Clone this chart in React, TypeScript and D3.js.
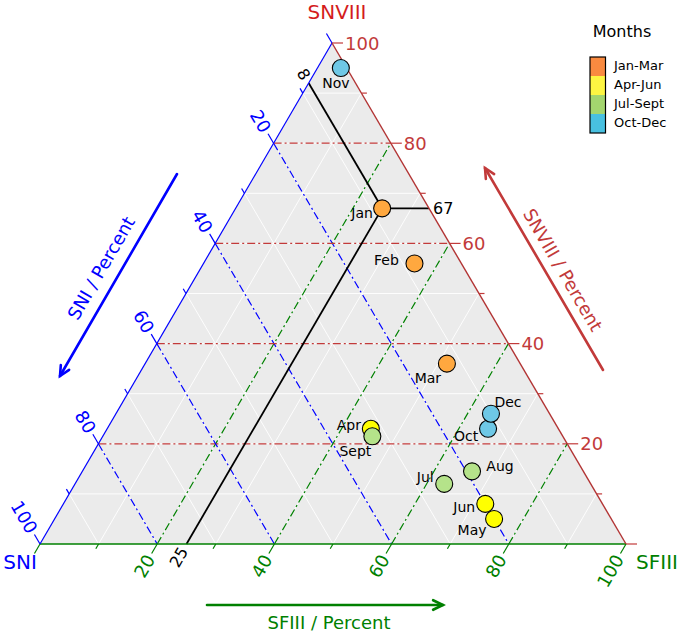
import React from "react";
import * as d3 from "d3";

// ---------- data ----------
const months = ["Jan", "Feb", "Mar", "Apr", "May", "Jun", "Jul", "Aug", "Sept", "Oct", "Nov", "Dec"];
const sniValues = [8, 8, 12.5, 32, 20, 20, 25, 19, 32.5, 12, 1, 10];
const sfiiiValues = [25, 36, 51.5, 45, 75, 72, 63, 66.5, 46, 65, 4, 64];
const snviiiValues = [67, 56, 36, 23, 5, 8, 12, 14.5, 21.5, 23, 95, 26];
const seasonIndex = [0, 0, 0, 1, 1, 1, 2, 2, 2, 3, 3, 3];
const seasons = ["Jan-Mar", "Apr-Jun", "Jul-Sept", "Oct-Dec"];
const tickValues = [0, 10, 20, 30, 40, 50, 60, 70, 80, 90, 100];
const gridValues = [10, 20, 30, 40, 50, 60, 70, 80, 90];
const guideValues = [20, 40, 60, 80];
const refPoint = { sni: 8, sfiii: 25, snviii: 67 };

// ---------- styles ----------
const FONT = "DejaVu Sans, Verdana, sans-serif";
const RED = "#c23a3a";
const RED_TITLE = "#d41c1c";
const RED_EDGE = "#b23434";
const BLUE = "#0000ff";
const GREEN = "#008000";
const pointColors = ["#ffa83f", "#ffff00", "#b5e38a", "#6ec8e6"];
const legendColors = ["#f98a40", "#fdf542", "#a3d56e", "#48c0e0"];
const labelOffsets: Record<string, [number, number]> = {
  Jan: [-20, 5], Feb: [-28, -3], Mar: [-19, 14], Apr: [-22, -4], May: [-22, 11], Jun: [-21, 3],
  Jul: [-19, -7], Aug: [28, -5], Sept: [-17, 15], Oct: [-22, 7], Nov: [-5, 15], Dec: [17, -12],
};

// ---------- geometry ----------
const VL = [40, 544]; // SNI vertex
const VR = [626, 544]; // SFIII vertex
const VT = [332, 43]; // SNVIII vertex
const pct = d3.scaleLinear().domain([0, 100]).range([0, 1]);

function proj(sni: number, sfiii: number, snviii: number): [number, number] {
  const l = pct(sni), r = pct(sfiii), t = pct(snviii);
  const s = l + r + t;
  return [(VL[0] * l + VR[0] * r + VT[0] * t) / s, (VL[1] * l + VR[1] * r + VT[1] * t) / s];
}
function unit(a: number[], b: number[]): [number, number] {
  const dx = b[0] - a[0], dy = b[1] - a[1];
  const n = Math.hypot(dx, dy);
  return [dx / n, dy / n];
}
const dirBlue = unit(VR, VT); // up-left
const dirGreen = unit(VT, VL); // down-left
const dirRed: [number, number] = [1, 0];
const rotBlue = (Math.atan2(dirBlue[1], dirBlue[0]) * 180) / Math.PI + 180;
const rotGreen = (Math.atan2(dirGreen[1], dirGreen[0]) * 180) / Math.PI - 180;

const lineGen = d3.line<[number, number]>();
const DASHDOT = "8,3,2,3";

function Arrow({ from, to, color }: { from: number[]; to: number[]; color: string }) {
  const a = Math.atan2(to[1] - from[1], to[0] - from[0]);
  const hl = 11, hw = 0.45;
  const p1: [number, number] = [to[0] - hl * Math.cos(a - hw), to[1] - hl * Math.sin(a - hw)];
  const p2: [number, number] = [to[0] - hl * Math.cos(a + hw), to[1] - hl * Math.sin(a + hw)];
  return (
    <g stroke={color} strokeWidth={2.6} fill="none" strokeLinecap="round" strokeLinejoin="miter">
      <path d={lineGen([from as [number, number], to as [number, number]]) || ""} />
      <path d={lineGen([p1, to as [number, number], p2]) || ""} />
    </g>
  );
}

export default function App() {
  const tri = lineGen([VL as [number, number], VR as [number, number], VT as [number, number]]) + "Z";

  // grid line endpoints
  const constT = (v: number) => [proj(100 - v, 0, v), proj(0, 100 - v, v)] as [number, number][];
  const constL = (v: number) => [proj(v, 0, 100 - v), proj(v, 100 - v, 0)] as [number, number][];
  const constR = (v: number) => [proj(100 - v, v, 0), proj(0, v, 100 - v)] as [number, number][];

  const pts = months.map((m, i) => ({
    name: m,
    p: proj(sniValues[i], sfiiiValues[i], snviiiValues[i]),
    c: pointColors[seasonIndex[i]],
  }));

  const ref = proj(refPoint.sni, refPoint.sfiii, refPoint.snviii);
  const refRight = proj(0, 100 - refPoint.snviii, refPoint.snviii);
  const refLeft = proj(refPoint.sni, 0, 100 - refPoint.sni);
  const refBottom = proj(100 - refPoint.sfiii, refPoint.sfiii, 0);

  const tickLen = (v: number) => (v % 20 === 0 ? 11 : 5.5);

  const legX = 590, legY = 57, legW = 15.5, legH = 76;
  const segH = legH / seasons.length;

  return (
    <svg width={685} height={633} style={{ position: "absolute", left: 0, top: 0, background: "#fff" }} fontFamily={FONT}>
      {/* background */}
      <path d={tri} fill="#ebebeb" />
      {/* white grid */}
      <g stroke="#ffffff" strokeWidth={0.9}>
        {gridValues.map((v) => (
          <g key={"g" + v}>
            <path d={lineGen(constT(v)) || ""} />
            <path d={lineGen(constL(v)) || ""} />
            <path d={lineGen(constR(v)) || ""} />
          </g>
        ))}
      </g>
      {/* dash-dot guides */}
      <g strokeWidth={1.2} fill="none" strokeDasharray={DASHDOT}>
        {guideValues.map((v) => (
          <g key={"d" + v}>
            <path d={lineGen(constL(v)) || ""} stroke={BLUE} />
            <path d={lineGen(constR(v)) || ""} stroke={GREEN} />
            <path d={lineGen(constT(v)) || ""} stroke={RED} />
          </g>
        ))}
      </g>
      {/* reference lines */}
      <g stroke="#000" strokeWidth={1.8} fill="none">
        <path d={lineGen([ref, refRight]) || ""} />
        <path d={lineGen([ref, refLeft]) || ""} />
        <path d={lineGen([ref, refBottom]) || ""} />
      </g>
      <text x={refRight[0] + 4} y={refRight[1]} fontSize={16} dominantBaseline="central">{refPoint.snviii}</text>
      <text
        transform={`translate(${refLeft[0] + dirBlue[0] * 5},${refLeft[1] + dirBlue[1] * 5}) rotate(${rotBlue})`}
        fontSize={16} textAnchor="end" dominantBaseline="central">{refPoint.sni}</text>
      <text
        transform={`translate(${refBottom[0] + dirGreen[0] * 5},${refBottom[1] + dirGreen[1] * 5}) rotate(${rotGreen})`}
        fontSize={16} textAnchor="end" dominantBaseline="central">{refPoint.sfiii}</text>

      {/* edges */}
      <path d={lineGen([VL as [number, number], VR as [number, number]]) || ""} stroke={GREEN} strokeWidth={1.4} />
      <path d={lineGen([VL as [number, number], VT as [number, number]]) || ""} stroke={BLUE} strokeWidth={1.2} />
      <path d={lineGen([VR as [number, number], VT as [number, number]]) || ""} stroke={RED_EDGE} strokeWidth={1.4} />

      {/* ticks: SNVIII (red, right edge) */}
      {tickValues.map((v) => {
        const b = proj(0, 100 - v, v);
        const len = tickLen(v);
        const e = [b[0] + dirRed[0] * len, b[1] + dirRed[1] * len];
        return (
          <g key={"r" + v}>
            <line x1={b[0]} y1={b[1]} x2={e[0]} y2={e[1]} stroke={RED} strokeWidth={1.2} />
            {v % 20 === 0 && v > 0 && (
              <text x={e[0] + 2} y={e[1]} fill={RED} fontSize={18} dominantBaseline="central">{v}</text>
            )}
          </g>
        );
      })}
      {/* ticks: SNI (blue, left edge) */}
      {tickValues.map((v) => {
        const b = proj(v, 0, 100 - v);
        const len = tickLen(v);
        const e = [b[0] + dirBlue[0] * len, b[1] + dirBlue[1] * len];
        return (
          <g key={"b" + v}>
            <line x1={b[0]} y1={b[1]} x2={e[0]} y2={e[1]} stroke={BLUE} strokeWidth={1.2} />
            {v % 20 === 0 && v > 0 && (
              <text transform={`translate(${e[0] + dirBlue[0] * 3},${e[1] + dirBlue[1] * 3}) rotate(${rotBlue})`}
                fill={BLUE} fontSize={18} textAnchor="end" dominantBaseline="central">{v}</text>
            )}
          </g>
        );
      })}
      {/* ticks: SFIII (green, bottom edge) */}
      {tickValues.map((v) => {
        const b = proj(100 - v, v, 0);
        const len = tickLen(v);
        const e = [b[0] + dirGreen[0] * len, b[1] + dirGreen[1] * len];
        return (
          <g key={"gr" + v}>
            <line x1={b[0]} y1={b[1]} x2={e[0]} y2={e[1]} stroke={GREEN} strokeWidth={1.2} />
            {v % 20 === 0 && v > 0 && (
              <text transform={`translate(${e[0] + dirGreen[0] * 3},${e[1] + dirGreen[1] * 3}) rotate(${rotGreen})`}
                fill={GREEN} fontSize={18} textAnchor="end" dominantBaseline="central">{v}</text>
            )}
          </g>
        );
      })}

      {/* month labels (under points) */}
      {pts.map((d) => (
        <text key={"l" + d.name} x={d.p[0] + labelOffsets[d.name][0]} y={d.p[1] + labelOffsets[d.name][1]}
          fontSize={14} textAnchor="middle" dominantBaseline="central" fill="#000">{d.name}</text>
      ))}
      {/* points */}
      {pts.map((d) => (
        <circle key={"p" + d.name} cx={d.p[0]} cy={d.p[1]} r={8.5} fill={d.c} stroke="#000" strokeWidth={1.1} />
      ))}

      {/* vertex titles */}
      <text x={337} y={12} fontSize={20} fill={RED_TITLE} textAnchor="middle" dominantBaseline="central">SNVIII</text>
      <text x={20} y={562} fontSize={20} fill={BLUE} textAnchor="middle" dominantBaseline="central">SNI</text>
      <text x={657} y={562} fontSize={20} fill={GREEN} textAnchor="middle" dominantBaseline="central">SFIII</text>

      {/* axis direction arrows */}
      <Arrow from={[177, 174]} to={[60, 376]} color={BLUE} />
      <text transform={`translate(101,268) rotate(-59.9)`} fontSize={18} fill={BLUE} textAnchor="middle" dominantBaseline="central">SNI / Percent</text>
      <Arrow from={[603, 370]} to={[485, 168]} color={RED} />
      <text transform={`translate(563,270) rotate(59.6)`} fontSize={18} fill={RED} textAnchor="middle" dominantBaseline="central">SNVIII / Percent</text>
      <Arrow from={[207, 605]} to={[443, 605]} color={GREEN} />
      <text x={329} y={622} fontSize={18} fill={GREEN} textAnchor="middle" dominantBaseline="central">SFIII / Percent</text>

      {/* legend */}
      <text x={622} y={31} fontSize={16} textAnchor="middle" dominantBaseline="central">Months</text>
      {seasons.map((s, i) => (
        <g key={"leg" + s}>
          <rect x={legX} y={legY + i * segH} width={legW} height={segH} fill={legendColors[i]} />
          <text x={614} y={legY + i * segH + segH / 2 - 1} fontSize={13} dominantBaseline="central">{s}</text>
        </g>
      ))}
      <rect x={legX} y={legY} width={legW} height={legH} fill="none" stroke="#000" strokeWidth={1.2} />
    </svg>
  );
}
